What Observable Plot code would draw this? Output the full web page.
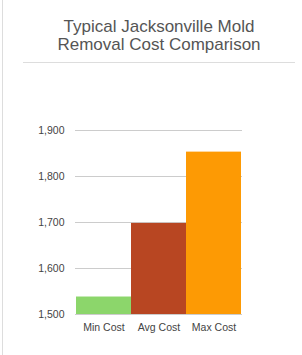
<!DOCTYPE html>
<html>
<head>
<meta charset="utf-8">
<script src="https://cdn.jsdelivr.net/npm/d3@7"></script>
<script src="https://cdn.jsdelivr.net/npm/@observablehq/plot@0.6"></script>
<style>
  html, body { margin: 0; padding: 0; background: #fff; }
  #wrap { position: relative; width: 302px; height: 355px; overflow: hidden; font-family: "Liberation Sans", Arial, sans-serif; }
  #border { position: absolute; left: 2px; top: 0; width: 1px; height: 355px; background: #ddd; }
  .title { position: absolute; left: 0; width: 318px; text-align: center; font-size: 17px; line-height: 17px; height: 17px; color: #555; white-space: nowrap; }
  #t1 { top: 18px; }
  #t2 { top: 36px; }
  #sep { position: absolute; left: 23px; width: 272px; top: 62px; height: 1px; background: #ddd; }
  #chart { position: absolute; left: 0; top: 70px; }
</style>
</head>
<body>
<div id="wrap">
  <div id="border"></div>
  <div class="title" id="t1">Typical Jacksonville Mold</div>
  <div class="title" id="t2">Removal Cost Comparison</div>
  <div id="sep"></div>
  <div id="chart"></div>
</div>
<script>
const categories = ["Min Cost", "Avg Cost", "Max Cost"];
const costs = [1538, 1698, 1853];
const colors = ["#8cd66b", "#b84622", "#fd9a04"];
const yTicks = [1500, 1600, 1700, 1800, 1900];

const data = categories.map((c, i) => ({category: c, cost: costs[i], color: colors[i]}));

const chart = Plot.plot({
  width: 302,
  height: 285,
  marginLeft: 75,
  marginRight: 60,
  marginTop: 60,
  marginBottom: 41,
  style: {fontFamily: "Liberation Sans, Arial, sans-serif", fontSize: "10.5px", color: "#444", background: "transparent"},
  x: {domain: categories, padding: 0, label: null, tickSize: 0, tickPadding: 9},
  y: {domain: [1500, 1900], ticks: yTicks, tickFormat: d3.format(","), label: null, tickSize: 0, tickPadding: 11},
  marks: [
    Plot.ruleY(yTicks, {stroke: "#ccc", strokeWidth: 1}),
    Plot.rectY(data, {x: "category", y1: 1500, y2: "cost", fill: "color"}),
  ]
});
document.getElementById("chart").appendChild(chart);
</script>
</body>
</html>
